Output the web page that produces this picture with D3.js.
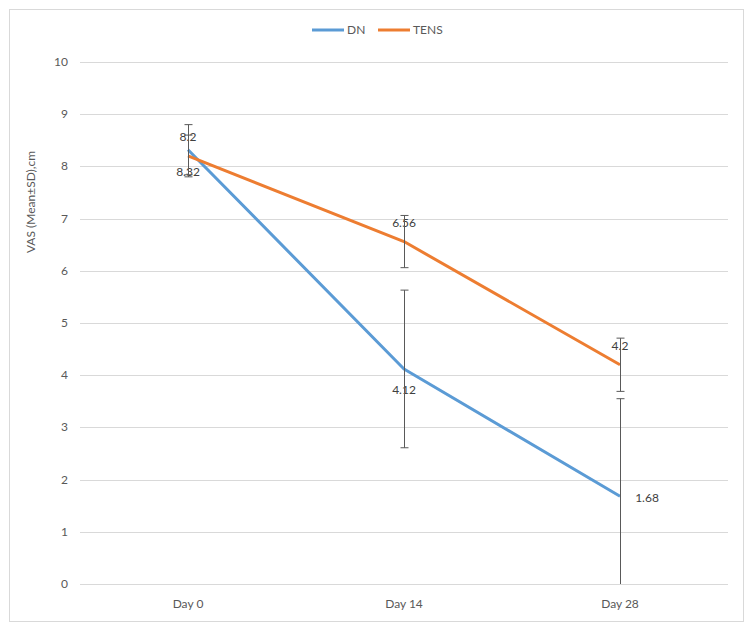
<!DOCTYPE html>
<html>
<head>
<meta charset="utf-8">
<script src="https://cdn.jsdelivr.net/npm/d3@7/dist/d3.min.js"></script>
<style>
  body { margin: 0; background: #fff; }
  text { font-family: Lato, "Open Sans", sans-serif; }
</style>
</head>
<body>
<script>
var days = ["Day 0", "Day 14", "Day 28"];
var dnMean = [8.32, 4.12, 1.68];
var dnSd = [0.48, 1.51, 1.87];
var tensMean = [8.2, 6.56, 4.2];
var tensSd = [0.4, 0.5, 0.51];
var yTicks = [0, 1, 2, 3, 4, 5, 6, 7, 8, 9, 10];

var W = 750, H = 626;
var plotLeft = 80, plotRight = 728, plotTop = 62, plotBottom = 584;

var svg = d3.select("body").append("svg").attr("width", W).attr("height", H);

svg.append("rect")
  .attr("x", 9.5).attr("y", 9.5).attr("width", 734).attr("height", 612)
  .attr("fill", "#fff").attr("stroke", "#d9d9d9").attr("stroke-width", 1);

var x = d3.scaleBand().domain(days).range([plotLeft, plotRight]);
var y = d3.scaleLinear().domain([0, 10]).range([plotBottom, plotTop]);

// gridlines
svg.append("g").selectAll("line").data(yTicks).enter().append("line")
  .attr("x1", plotLeft).attr("x2", plotRight)
  .attr("y1", function(d){ return Math.round(y(d)) + 0.5; })
  .attr("y2", function(d){ return Math.round(y(d)) + 0.5; })
  .attr("stroke", "#d9d9d9").attr("stroke-width", 1);

// y tick labels
svg.append("g").selectAll("text").data(yTicks).enter().append("text")
  .attr("x", 68).attr("y", function(d){ return y(d) + 4; })
  .attr("text-anchor", "end").attr("font-size", 12).attr("fill", "#595959")
  .text(function(d){ return d; });

// x labels
svg.append("g").selectAll("text").data(days).enter().append("text")
  .attr("x", function(d){ return x(d) + x.bandwidth() / 2; })
  .attr("y", 608).attr("text-anchor", "middle").attr("font-size", 12).attr("fill", "#595959")
  .text(function(d){ return d; });

// y title
svg.append("text")
  .attr("transform", "translate(35,202) rotate(-90)")
  .attr("text-anchor", "middle").attr("font-size", 12).attr("fill", "#595959")
  .text("VAS (Mean±SD),cm");

var cx = function(i){ return x(days[i]) + x.bandwidth() / 2; };

var series = [
  { name: "DN", mean: dnMean, sd: dnSd, color: "#5B9BD5" },
  { name: "TENS", mean: tensMean, sd: tensSd, color: "#ED7D31" }
];

var line = d3.line()
  .x(function(d, i){ return cx(i); })
  .y(function(d){ return y(d); });

series.forEach(function(s){
  svg.append("path").datum(s.mean)
    .attr("d", line).attr("fill", "none")
    .attr("stroke", s.color).attr("stroke-width", 3).attr("stroke-linejoin", "round");
});

// data labels
var dnOff = [[0, 26], [0, 25], [27, 6]];
var tensOff = [[0, -15], [0, -15], [0, -15]];
function labels(mean, off){
  svg.append("g").selectAll("text").data(mean).enter().append("text")
    .attr("x", function(d, i){ return cx(i) + off[i][0]; })
    .attr("y", function(d, i){ return y(d) + off[i][1]; })
    .attr("text-anchor", "middle").attr("font-size", 12).attr("fill", "#404040")
    .text(function(d){ return d; });
}
labels(dnMean, dnOff);
labels(tensMean, tensOff);

// error bars (drawn over labels, as in the source chart)
series.forEach(function(s){
  var g = svg.append("g").attr("stroke", "#595959").attr("stroke-width", 1);
  s.mean.forEach(function(m, i){
    var lo = Math.max(0, m - s.sd[i]), hi = m + s.sd[i];
    var px = Math.round(cx(i)) + 0.5;
    g.append("line").attr("x1", px).attr("x2", px).attr("y1", y(lo)).attr("y2", y(hi));
    g.append("line").attr("x1", px - 4).attr("x2", px + 4).attr("y1", y(hi)).attr("y2", y(hi));
    if (m - s.sd[i] > 0)
      g.append("line").attr("x1", px - 4).attr("x2", px + 4).attr("y1", y(lo)).attr("y2", y(lo));
  });
});

// legend
var leg = [{ name: "DN", color: "#5B9BD5", x: 312 }, { name: "TENS", color: "#ED7D31", x: 378 }];
leg.forEach(function(l){
  svg.append("line").attr("x1", l.x).attr("x2", l.x + 32).attr("y1", 30).attr("y2", 30)
    .attr("stroke", l.color).attr("stroke-width", 3);
  svg.append("text").attr("x", l.x + 35).attr("y", 34).attr("font-size", 12).attr("fill", "#595959")
    .text(l.name);
});
</script>
</body>
</html>
